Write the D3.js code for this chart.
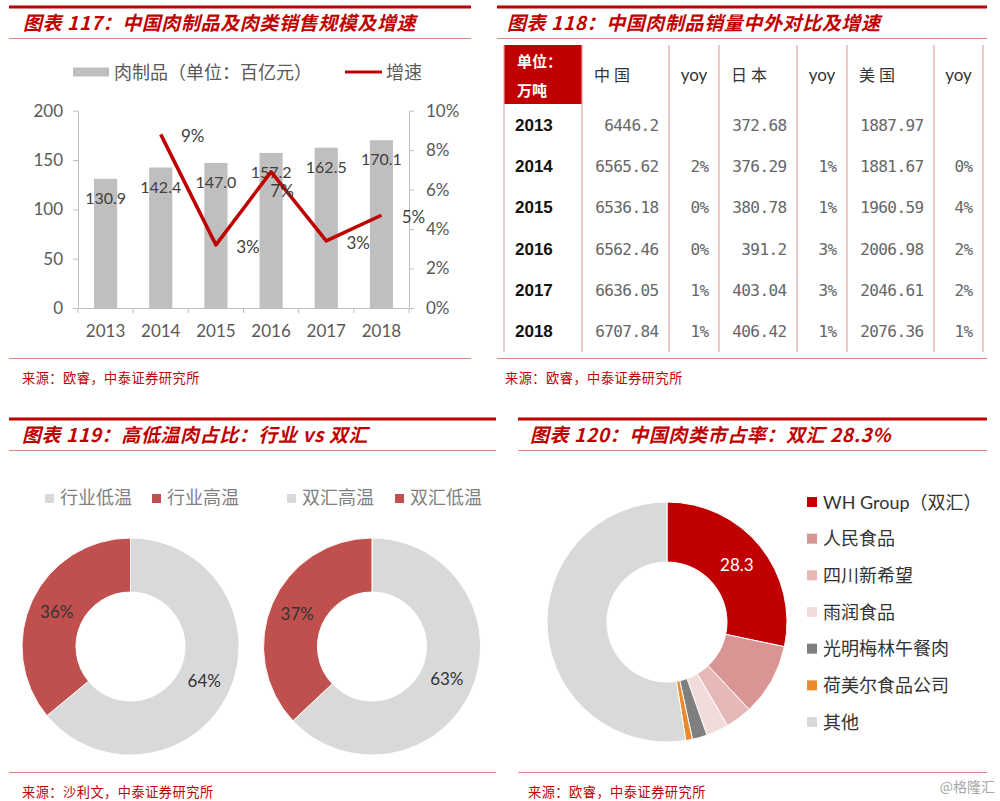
<!DOCTYPE html>
<html><head><meta charset="utf-8">
<script src="https://cdn.jsdelivr.net/npm/d3@7"></script>
<style>
body{margin:0;background:#fff;}
svg{display:block;}
</style></head><body>
<svg id="c" width="1000" height="801"></svg>
<script>
// ---------- data ----------
const years = ["2013","2014","2015","2016","2017","2018"];
const meatSales = [130.9,142.4,147.0,157.2,162.5,170.1];
const growthRate = [null,8.8,3.2,6.9,3.4,4.7];
const growthLabels = ["","9%","3%","7%","3%","5%"];
const leftTicks = [0,50,100,150,200];
const rightTicks = [0,2,4,6,8,10];

const tableHeaders = ["中国","yoy","日本","yoy","美国","yoy"];
const chinaVolume = ["6446.2","6565.62","6536.18","6562.46","6636.05","6707.84"];
const chinaYoy = ["","2%","0%","0%","1%","1%"];
const japanVolume = ["372.68","376.29","380.78","391.2","403.04","406.42"];
const japanYoy = ["","1%","1%","3%","3%","1%"];
const usVolume = ["1887.97","1881.67","1960.59","2006.98","2046.61","2076.36"];
const usYoy = ["","0%","4%","2%","2%","1%"];

const industryCategories = ["行业低温","行业高温"];
const industryShare = [64,36];
const whCategories = ["双汇高温","双汇低温"];
const whShare = [63,37];

const companies = ["WH Group（双汇）","人民食品","四川新希望","雨润食品","光明梅林午餐肉","荷美尔食品公司","其他"];
const marketShare = [28.3,9.7,3.6,3.0,2.0,0.9,52.5];

// ---------- styles ----------
const RED = "#C00000";
const CJK = "'Noto Sans CJK SC'";
const LAT = "Lato,'Noto Sans CJK SC',sans-serif";
const svg = d3.select("#c");
svg.append("rect").attr("width",1000).attr("height",801).attr("fill","#fff");

function frame(x0,x1,topY,title,titleX,bottomY,source,sourceX){
  const g = svg.append("g");
  g.append("line").attr("x1",x0).attr("x2",x1).attr("y1",topY).attr("y2",topY)
    .attr("stroke",RED).attr("stroke-width",3);
  g.append("text").attr("x",titleX).attr("y",topY+23).text(title)
    .attr("fill",RED).attr("font-family",CJK).attr("font-size",19).attr("font-weight","bold")
    .attr("font-style","italic").attr("letter-spacing",0.6);
  g.append("line").attr("x1",x0).attr("x2",x1).attr("y1",topY+31.5).attr("y2",topY+31.5)
    .attr("stroke","#D9888B").attr("stroke-width",1);
  g.append("line").attr("x1",x0).attr("x2",x1).attr("y1",bottomY).attr("y2",bottomY)
    .attr("stroke","#D9888B").attr("stroke-width",1);
  g.append("text").attr("x",sourceX).attr("y",bottomY+24).text(source)
    .attr("fill",RED).attr("font-family",CJK).attr("font-size",13.2).attr("letter-spacing",0.5);
}

frame(9,471,7,"图表 117：中国肉制品及肉类销售规模及增速",23,358.5,"来源：欧睿，中泰证券研究所",22);
frame(497,987,7,"图表 118：中国肉制品销量中外对比及增速",507,358.5,"来源：欧睿，中泰证券研究所",505);
frame(9,496,419,"图表 119：高低温肉占比：行业 vs 双汇",22,772.5,"来源：沙利文，中泰证券研究所",22);
frame(518,987,419,"图表 120：中国肉类市占率：双汇 28.3%",530,772.5,"来源：欧睿，中泰证券研究所",528);

// ---------- panel 1: bar + line ----------
(function(){
  const g = svg.append("g");
  const x = d3.scaleBand().domain(years).range([78,409]).paddingInner(0.58).paddingOuter(0.29);
  const yL = d3.scaleLinear().domain([0,200]).range([308,110.7]);
  const yR = d3.scaleLinear().domain([0,10]).range([308,110.7]);
  const axisCol = "#BFBFBF", txtCol = "#595959";

  // legend
  g.append("rect").attr("x",73).attr("y",67.5).attr("width",36).attr("height",9).attr("fill","#BFBFBF");
  g.append("text").attr("x",114).attr("y",79).text("肉制品（单位：百亿元）")
    .attr("font-family",CJK).attr("font-size",18).attr("fill",txtCol);
  g.append("line").attr("x1",345).attr("x2",382).attr("y1",72).attr("y2",72)
    .attr("stroke",RED).attr("stroke-width",3);
  g.append("text").attr("x",386).attr("y",79).text("增速")
    .attr("font-family",CJK).attr("font-size",18).attr("fill",txtCol);

  // bars
  g.selectAll("rect.bar").data(meatSales).join("rect").attr("class","bar")
    .attr("x",(d,i)=>x(years[i])).attr("width",x.bandwidth())
    .attr("y",d=>yL(d)).attr("height",d=>yL(0)-yL(d)).attr("fill","#BFBFBF");

  // axes
  const ax = g.append("g").attr("transform","translate(78,0)")
    .call(d3.axisLeft(yL).tickValues(leftTicks).tickSize(5).tickSizeOuter(0).tickPadding(10));
  const ar = g.append("g").attr("transform","translate(409,0)")
    .call(d3.axisRight(yR).tickValues(rightTicks).tickSize(5).tickSizeOuter(0).tickPadding(12).tickFormat(d=>d+"%"));
  const ab = g.append("g").attr("transform","translate(0,308)")
    .call(d3.axisBottom(x).tickSize(0).tickSizeOuter(0).tickPadding(17));
  [ax,ar,ab].forEach(a=>{
    a.selectAll("path,line").attr("stroke",axisCol);
    a.selectAll("text").attr("fill",txtCol).attr("font-family",LAT).attr("font-size",17);
  });
  // category boundary ticks
  g.selectAll("line.bt").data(d3.range(years.length+1)).join("line").attr("class","bt")
    .attr("x1",i=>x.range()[0]+i*x.step()).attr("x2",i=>x.range()[0]+i*x.step())
    .attr("y1",308).attr("y2",313).attr("stroke",axisCol);

  // bar labels
  g.selectAll("text.bl").data(meatSales).join("text").attr("class","bl")
    .attr("x",(d,i)=>x(years[i])+x.bandwidth()/2).attr("y",d=>yL(d)+25)
    .attr("text-anchor","middle").text(d=>d.toFixed(1))
    .attr("font-family",LAT).attr("font-size",16).attr("fill","#404040");

  // line
  const pts = growthRate.map((v,i)=>({v,i})).filter(d=>d.v!=null);
  const isPeak = d => d.i>0 && d.i<growthRate.length-1 && growthRate[d.i-1]!=null && d.v>growthRate[d.i-1] && d.v>growthRate[d.i+1];
  const line = d3.line().x(d=>x(years[d.i])+x.bandwidth()/2).y(d=>yR(d.v));
  g.append("path").datum(pts).attr("d",line).attr("fill","none")
    .attr("stroke",RED).attr("stroke-width",3.5).attr("stroke-linejoin","round");
  g.selectAll("text.gl").data(pts).join("text").attr("class","gl")
    .attr("x",d=>x(years[d.i])+x.bandwidth()/2 + (isPeak(d) ? 11 : 32))
    .attr("y",d=>yR(d.v) + (isPeak(d) ? 25 : 8))
    .attr("text-anchor","middle").text(d=>growthLabels[d.i])
    .attr("font-family",LAT).attr("font-size",17).attr("fill","#404040");
})();

// ---------- panel 2: table ----------
(function(){
  const g = svg.append("g");
  const cols = [504,582,669,719,797,847,934,983];
  const headTop = 45, headBot = 104, tableBot = 352;
  const rows = d3.scaleBand().domain(years).range([headBot,tableBot]);
  g.append("rect").attr("x",cols[0]).attr("y",headTop).attr("width",cols[1]-cols[0])
    .attr("height",headBot-headTop).attr("fill",RED);
  g.append("text").attr("x",517).attr("y",67).text("单位：").attr("fill","#fff")
    .attr("font-family",CJK).attr("font-size",15).attr("font-weight","bold");
  g.append("text").attr("x",517).attr("y",96).text("万吨").attr("fill","#fff")
    .attr("font-family",CJK).attr("font-size",15).attr("font-weight","bold");
  g.selectAll("line.v").data(cols).join("line").attr("class","v")
    .attr("x1",d=>d).attr("x2",d=>d).attr("y1",headTop).attr("y2",tableBot)
    .attr("stroke","#E3A3A8").attr("stroke-width",1.2);
  // headers
  g.selectAll("text.h").data(tableHeaders).join("text").attr("class","h")
    .attr("x",(d,i)=> d==="yoy" ? (cols[i+1]+cols[i+2])/2 : cols[i+1]+12)
    .attr("text-anchor",d=> d==="yoy" ? "middle":"start")
    .attr("y",81).text(d=>d)
    .attr("font-family",d=> d==="yoy" ? LAT : CJK)
    .attr("font-size",d=> d==="yoy" ? 17 : 16)
    .attr("letter-spacing",d=> d==="yoy" ? 0 : 4)
    .attr("fill","#333");
  // year column
  g.selectAll("text.yr").data(years).join("text").attr("class","yr")
    .attr("x",515).attr("y",d=>rows(d)+rows.bandwidth()/2+6).text(d=>d)
    .attr("font-family","'Liberation Sans',Arial,sans-serif").attr("font-size",17)
    .attr("font-weight","bold").attr("fill","#111");
  const colsData = [chinaVolume,chinaYoy,japanVolume,japanYoy,usVolume,usYoy];
  colsData.forEach((arr,ci)=>{
    g.selectAll("text.c"+ci).data(arr).join("text").attr("class","c"+ci)
      .attr("x",cols[ci+2]-10.5).attr("y",(d,i)=>rows(years[i])+rows.bandwidth()/2+6)
      .attr("text-anchor","end").text(d=>d)
      .attr("font-family","'DejaVu Sans Mono',monospace").attr("font-size",16)
      .attr("letter-spacing",-0.6)
      .attr("fill","#666");
  });
})();

// ---------- panel 3: two donuts ----------
(function(){
  const g = svg.append("g");
  const colors = ["#D9D9D9","#C0504D"];
  const legendItems = industryCategories.concat(whCategories);
  const legendX = [45,152,287,395];
  g.selectAll("rect.lg").data(legendItems).join("rect").attr("class","lg")
    .attr("x",(d,i)=>legendX[i]).attr("y",494).attr("width",9).attr("height",9)
    .attr("fill",(d,i)=>colors[i%2]);
  g.selectAll("text.lg").data(legendItems).join("text").attr("class","lg")
    .attr("x",(d,i)=>legendX[i]+15).attr("y",504).text(d=>d)
    .attr("font-family",CJK).attr("font-size",18).attr("fill","#7F7F7F");

  const pie = d3.pie().sort(null).value(d=>d);
  const arc = d3.arc().innerRadius(54.5).outerRadius(108.5);
  [[industryShare,130.5],[whShare,372]].forEach(([vals,cx])=>{
    const dg = g.append("g").attr("transform",`translate(${cx},646.5)`);
    const arcs = pie(vals);
    dg.selectAll("path").data(arcs).join("path").attr("d",arc)
      .attr("fill",(d,i)=>colors[i]).attr("stroke","#fff").attr("stroke-width",1);
    dg.selectAll("text").data(arcs).join("text")
      .attr("transform",d=>`translate(${arc.centroid(d)})`)
      .attr("dy","0.35em").attr("text-anchor","middle").text(d=>d.data+"%")
      .attr("font-family",LAT).attr("font-size",17).attr("fill","#333");
  });
})();

// ---------- panel 4: market share donut ----------
(function(){
  const g = svg.append("g");
  const colors = ["#C00000","#D99594","#E6B9B8","#F2DCDB","#7F7F7F","#E98A2E","#D9D9D9"];
  const pie = d3.pie().sort(null).value(d=>d);
  const arc = d3.arc().innerRadius(60).outerRadius(120);
  const dg = g.append("g").attr("transform","translate(667,622)");
  const arcs = pie(marketShare);
  dg.selectAll("path").data(arcs).join("path").attr("d",arc)
    .attr("fill",(d,i)=>colors[i]).attr("stroke","#fff").attr("stroke-width",1);
  dg.append("text").attr("transform",`translate(${arc.centroid(arcs[0])})`)
    .attr("dy","0.35em").attr("text-anchor","middle").text(marketShare[0].toFixed(1))
    .attr("font-family",LAT).attr("font-size",17).attr("fill","#fff");

  const ly = d3.scalePoint().domain(companies).range([502,722]);
  g.selectAll("rect.lg").data(companies).join("rect").attr("class","lg")
    .attr("x",807).attr("y",d=>ly(d)-5).attr("width",10).attr("height",10)
    .attr("fill",(d,i)=>colors[i]);
  g.selectAll("text.lg").data(companies).join("text").attr("class","lg")
    .attr("x",823).attr("y",d=>ly(d)+6.5).text(d=>d)
    .attr("font-family",LAT).attr("font-size",18).attr("fill","#333");

  svg.append("text").attr("x",995).attr("y",792).attr("text-anchor","end").text("@格隆汇")
    .attr("font-family",CJK).attr("font-size",14).attr("fill","#A6A6A6");
})();
</script>
</body></html>
